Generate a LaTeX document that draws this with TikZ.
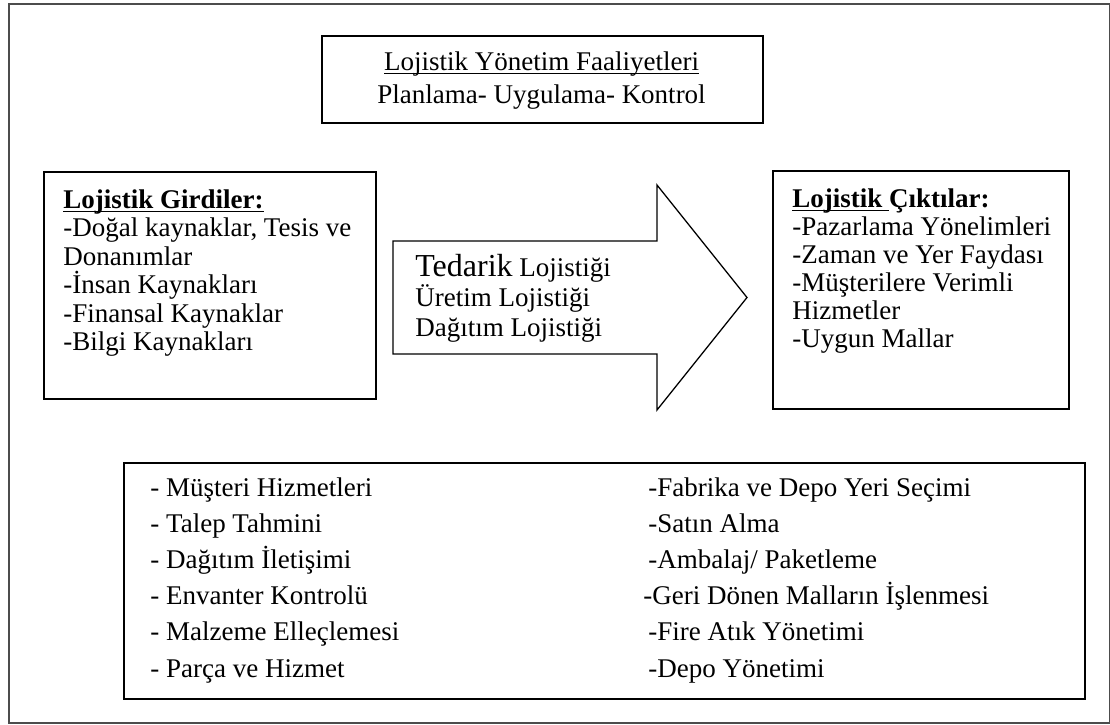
\documentclass[tikz,border=0pt]{standalone}
\usepackage{fontspec}
\setmainfont{Liberation Serif}
\newcommand{\myul}[1]{\setbox0\hbox{#1}\rlap{\rule[-1.9pt]{\wd0}{0.65pt}}\box0}
\begin{document}
\begin{tikzpicture}[x=0.5pt,y=-0.5pt,
  box/.style={draw=black, line width=1pt, inner sep=0pt, anchor=north west},
  txt/.style={anchor=base west, inner sep=0pt, font=\fontsize{13.5}{16}\selectfont},
  ctxt/.style={anchor=base, inner sep=0pt, font=\fontsize{13.5}{16}\selectfont},
  arrowshape/.style={draw=black, line width=0.65pt, line join=miter}]
\useasboundingbox (0,0) rectangle (1110,724);
% outer frame
\node[box, draw=black!70, line width=0.75pt, minimum width=550.25pt, minimum height=359.5pt] (frame) at (8,3) {};
% top box
\node[box, minimum width=220.5pt, minimum height=43.5pt] (top) at (321,35) {};
\node[ctxt] (top1) at (541.5,70) {\myul{Lojistik Yönetim Faaliyetleri}};
\node[ctxt] (top2) at (541.5,103) {Planlama- Uygulama- Kontrol};
% left box
\node[box, minimum width=166pt, minimum height=113.5pt] (left) at (42.5,171) {};
\node[txt] (l0) at (63,208) {\textbf{\myul{Lojistik Girdiler:}}};
\node[txt] (l1) at (63,236.5) {-Doğal kaynaklar, Tesis ve};
\node[txt] (l2) at (63,265) {Donanımlar};
\node[txt] (l3) at (63,293.5) {-İnsan Kaynakları};
\node[txt] (l4) at (63,322) {-Finansal Kaynaklar};
\node[txt] (l5) at (63,350.5) {-Bilgi Kaynakları};
% arrow
\draw[arrowshape] (393,241) -- (657,241) -- (657,185) -- (747,297.5) -- (657,410) -- (657,354) -- (393,354) -- cycle;
\node[txt] (a1) at (415,276) {{\fontsize{16}{18}\selectfont Tedarik} Lojistiği};
\node[txt] (a2) at (415,306.5) {Üretim Lojistiği};
\node[txt] (a3) at (415,336.5) {Dağıtım Lojistiği};
% right box
\node[box, minimum width=148pt, minimum height=119pt] (right) at (772,170) {};
\node[txt] (r0) at (792,207.5) {\textbf{\myul{Lojistik }Çıktılar:}};
\node[txt] (r1) at (792,235.5) {-Pazarlama Yönelimleri};
\node[txt] (r2) at (792,263.5) {-Zaman ve Yer Faydası};
\node[txt] (r3) at (792,291.5) {-Müşterilere Verimli};
\node[txt] (r4) at (792,319.5) {Hizmetler};
\node[txt] (r5) at (792,347.5) {-Uygun Mallar};
% bottom box
\node[box, minimum width=480.5pt, minimum height=118pt] (bottom) at (123,462) {};
\node[txt] (b1) at (150,496.5) {- Müşteri Hizmetleri};
\node[txt] (b2) at (150,532.6) {- Talep Tahmini};
\node[txt] (b3) at (150,568.7) {- Dağıtım İletişimi};
\node[txt] (b4) at (150,604.8) {- Envanter Kontrolü};
\node[txt] (b5) at (150,640.9) {- Malzeme Elleçlemesi};
\node[txt] (b6) at (150,677) {- Parça ve Hizmet};
\node[txt] (c1) at (648,496.5) {-Fabrika ve Depo Yeri Seçimi};
\node[txt] (c2) at (648,532.6) {-Satın Alma};
\node[txt] (c3) at (648,568.7) {-Ambalaj/ Paketleme};
\node[txt] (c4) at (643,604.8) {-Geri Dönen Malların İşlenmesi};
\node[txt] (c5) at (648,640.9) {-Fire Atık Yönetimi};
\node[txt] (c6) at (648,677) {-Depo Yönetimi};
\end{tikzpicture}
\end{document}
